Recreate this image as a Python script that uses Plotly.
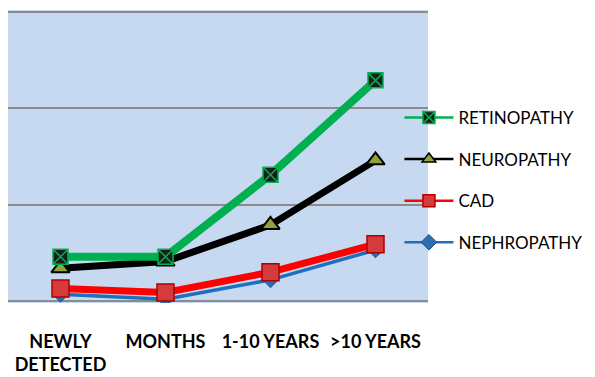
import plotly.graph_objects as go

# Duration of diabetes groups (x categories)
categories = ["NEWLY<br>DETECTED", "MONTHS", "1-10 YEARS", ">10 YEARS"]

# Complication values per duration group
retinopathy = [4.6, 4.6, 13.1, 22.9]
neuropathy = [3.4, 4.1, 7.9, 14.6]
cad = [1.3, 0.9, 3.0, 5.9]
nephropathy = [0.7, 0.2, 2.2, 5.3]

series = [
    # name, values, line colour, line width, marker symbol, fill, outline, outline width, size
    ("NEPHROPATHY", nephropathy, "#1F6FBF", 3.5, "diamond", "#2E6DB4", "#1F4E8C", 1, 12),
    ("CAD", cad, "#FF0000", 7, "square", "#D63B3B", "#B00000", 1.5, 17),
    ("NEUROPATHY", neuropathy, "#000000", 7, "triangle-up", "#8FA33A", "#000000", 2, 16),
    ("RETINOPATHY", retinopathy, "#00B050", 8, "square-x", "#1C1C1C", "#00B050", 1.5, 15),
]

fig = go.Figure()

# Data lines (thick), drawn bottom to top
for name, vals, lc, lw, sym, fc, oc, ow, sz in series:
    fig.add_trace(go.Scatter(
        x=categories, y=vals, mode="lines+markers", name=name,
        line=dict(color=lc, width=lw),
        marker=dict(symbol=sym, size=sz, color=fc, line=dict(color=oc, width=ow)),
        showlegend=False, hoverinfo="x+y+name",
    ))

# Legend entries with thin lines, listed top to bottom
for rank, (name, vals, lc, lw, sym, fc, oc, ow, sz) in enumerate(reversed(series)):
    fig.add_trace(go.Scatter(
        x=[None], y=[None], mode="lines+markers", name=name,
        line=dict(color=lc, width=2.5),
        marker=dict(symbol=sym, size=min(sz, 12), color=fc, line=dict(color=oc, width=min(ow, 1.5))),
        legendgroup=name, legendrank=rank + 1, showlegend=True,
    ))

fig.update_layout(
    width=595, height=377,
    margin=dict(l=8, r=165, t=10, b=74),
    paper_bgcolor="white",
    plot_bgcolor="#C6D9F0",
    font=dict(family="Lato, Carlito, Calibri, sans-serif", color="#000000"),
    legend=dict(
        x=0.932, xanchor="left", y=0.42, yanchor="middle",
        font=dict(size=17, family="Lato, Calibri, sans-serif"),
        traceorder="grouped", tracegroupgap=16.5, itemwidth=49,
        bgcolor="rgba(0,0,0,0)", borderwidth=0,
    ),
    xaxis=dict(
        type="category", range=[-0.5, 3.5],
        showgrid=False, zeroline=False,
        showline=False, ticks="", automargin=False,
        tickfont=dict(size=18, family="Lato, Calibri, sans-serif", weight="bold"),
        ticklabelstandoff=26,
    ),
    yaxis=dict(
        range=[-0.2, 30.2], dtick=10, showticklabels=False,
        showgrid=True, gridcolor="#8C8C8C", gridwidth=2,
        zeroline=False, showline=False, ticks="", automargin=False,
    ),
)

fig.write_html("out.html")
